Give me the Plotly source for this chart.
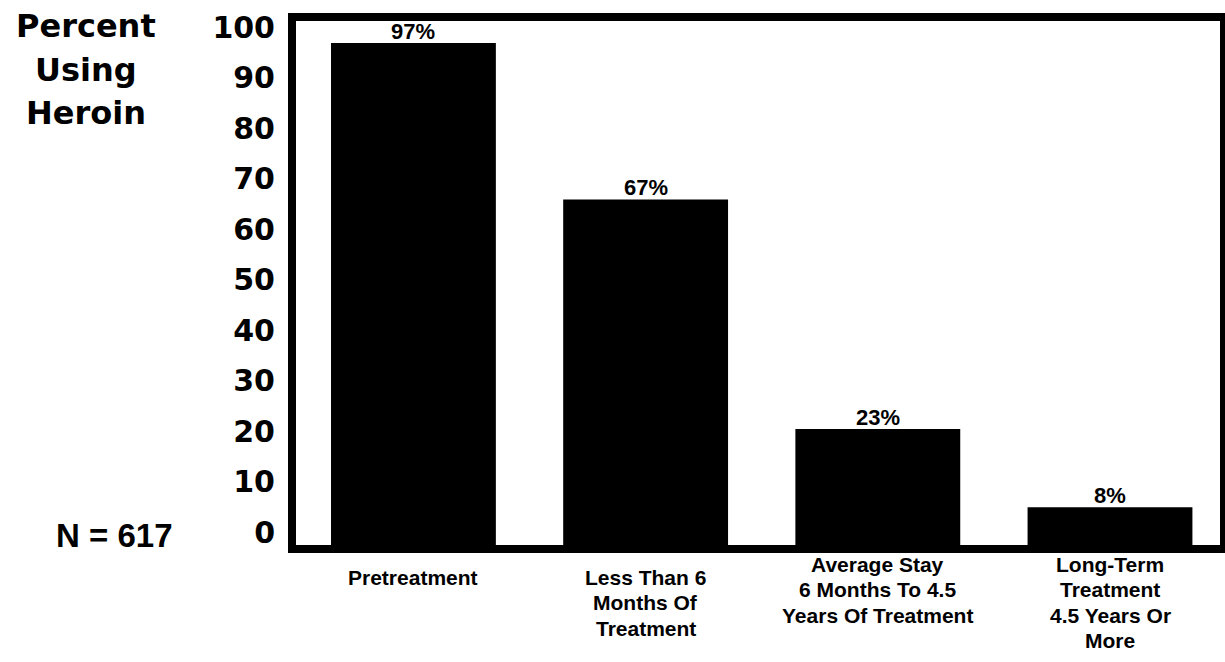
import plotly.graph_objects as go

categories = ["Pretreatment", "Less Than 6<br>Months Of<br>Treatment",
              "Average Stay<br>6 Months To 4.5<br>Years Of Treatment",
              "Long-Term<br>Treatment<br>4.5 Years Or<br>More"]
values = [97, 67, 23, 8]
tick_values = [0, 10, 20, 30, 40, 50, 60, 70, 80, 90, 100]
tick_labels = [str(v) for v in tick_values]
title_lines = ["Percent", "Using", "Heroin"]
n_label = "N = 617"

W, H = 1225, 662
L, R, T, B = 292, 1, 17, 113
pw = W - L - R
ph = H - T - B

fig = go.Figure()
fig.add_trace(go.Bar(
    x=list(range(len(categories))), y=values,
    marker=dict(color="black", line=dict(width=0)),
    width=0.71, showlegend=False, hoverinfo="skip"))
# invisible trace carrying the tick-label axis
fig.add_trace(go.Scatter(x=[0, 0], y=[0, 100], yaxis="y2",
                         mode="markers", marker=dict(opacity=0), showlegend=False,
                         hoverinfo="skip"))

fig.update_layout(
    width=W, height=H, margin=dict(l=L, r=R, t=T, b=B, pad=0),
    paper_bgcolor="white", plot_bgcolor="white",
    xaxis=dict(range=[-0.523, 3.491], showgrid=False, zeroline=False, showline=False,
               ticks="", showticklabels=False),
    yaxis=dict(range=[0, 102.0], showgrid=False, zeroline=False, showline=False,
               showticklabels=False, ticks=""),
    yaxis2=dict(overlaying="y", side="left", range=[-3.37, 102.08],
                tickmode="array", tickvals=tick_values,
                ticktext=[f"<b>{t}</b>" for t in tick_labels],
                showgrid=False, zeroline=False, showline=False, ticks="",
                tickfont=dict(family="DejaVu Sans", size=30, color="black"),
                ticklabelstandoff=16),
    font=dict(family="DejaVu Sans", color="black"),
)

# thick frame around plot area
fig.add_shape(type="rect", xref="paper", yref="paper", x0=0, x1=1, y0=0, y1=1,
              line=dict(color="black", width=8), layer="below")

# value labels above bars
for i, v in enumerate(values):
    fig.add_annotation(text=f"<b>{v}%</b>", xref="x", yref="y", x=i, y=v,
                       showarrow=False, xanchor="center", yanchor="middle", yshift=12,
                       font=dict(family="Liberation Sans", size=22, color="black"))

# category labels, line by line
first_line_y = [577, 577, 564, 564]
line_gap = 25.5
for i, (cat, y0) in enumerate(zip(categories, first_line_y)):
    for j, line in enumerate(cat.split("<br>")):
        yp = y0 + j * line_gap
        fig.add_annotation(text=f"<b>{line}</b>", xref="x", yref="paper",
                           x=i, y=(H - B - yp) / ph, showarrow=False,
                           xanchor="center", yanchor="middle",
                           font=dict(family="Liberation Sans", size=21, color="black"))

ys = [26, 70, 113]
for txt, yp in zip(title_lines, ys):
    fig.add_annotation(text=f"<b>{txt}</b>", xref="paper", yref="paper",
                       x=(86 - L) / pw, y=1 - (yp - T) / ph, showarrow=False,
                       xanchor="center", yanchor="middle",
                       font=dict(family="DejaVu Sans", size=32, color="black"))

fig.add_annotation(text=f"<b>{n_label}</b>", xref="paper", yref="paper",
                   x=(114 - L) / pw, y=(H - B - 535) / ph, showarrow=False,
                   xanchor="center", yanchor="middle",
                   font=dict(family="Liberation Sans", size=33, color="black"))

fig.write_html("out.html")
